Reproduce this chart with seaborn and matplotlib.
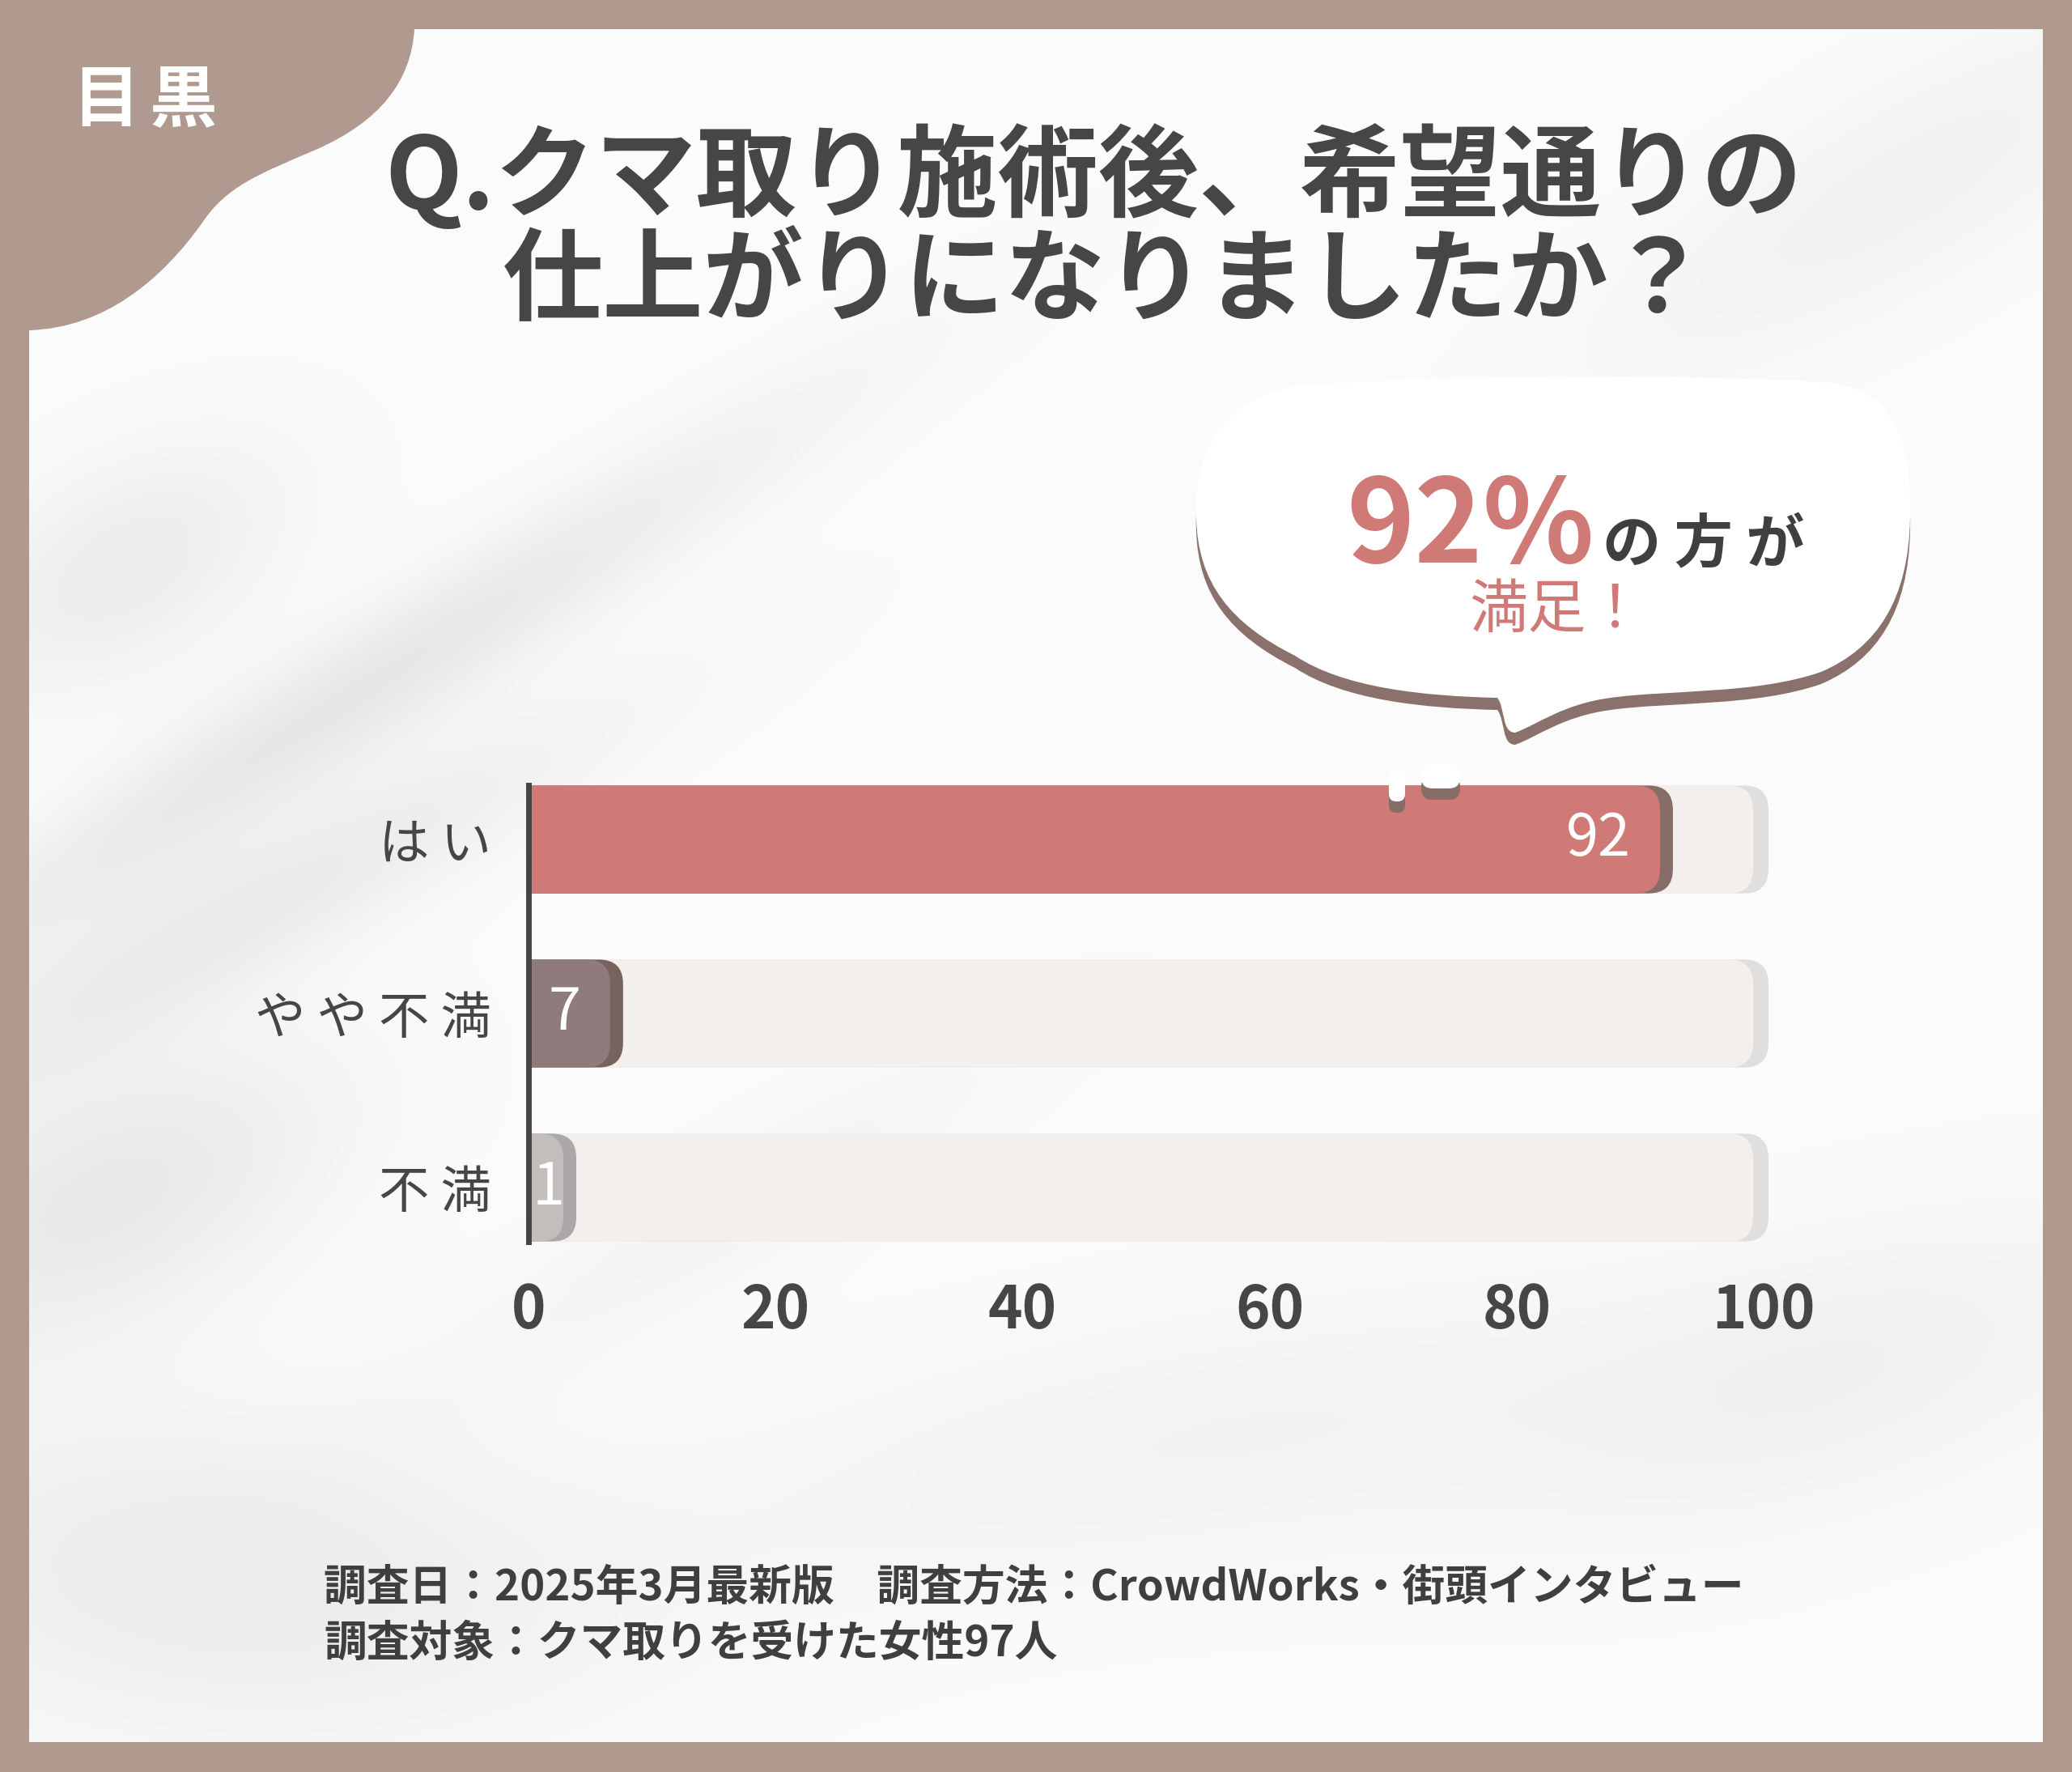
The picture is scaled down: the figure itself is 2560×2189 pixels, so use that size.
import numpy as np
import pandas as pd
import matplotlib
matplotlib.use("Agg")
import matplotlib.pyplot as plt
import matplotlib.transforms as mtransforms
from matplotlib.patches import FancyBboxPatch, PathPatch
from matplotlib.path import Path
import seaborn as sns

# ---------------- data ----------------
categories = ["はい", "やや不満", "不満"]
values = [92, 7, 1]
scale_max = 100
x_ticks = [0, 20, 40, 60, 80, 100]
title_lines = ["Q.クマ取り施術後、希望通りの", "仕上がりになりましたか？"]
area_label = ["目", "黒"]
callout_tail = "の 方 が"
callout_line2 = "満足！"
footer_lines = ["調査日：2025年3月最新版　調査方法：CrowdWorks・街頭インタビュー",
                "調査対象：クマ取りを受けた女性97人"]

# ---------------- style ----------------
bar_colors = ["#cf7a76", "#8f7b7b", "#c3bdbb"]
shadow_colors = ["#876d68", "#77625e", "#aaa8a8"]
track_color = "#f3efec"
track_shadow = "#e1dfde"
frame_color = "#b09a8f"
text_dark = "#464646"
accent = "#cf7a76"

sns.set_theme(style="white")
plt.rcParams["font.family"] = ["Noto Sans CJK JP", "DejaVu Sans"]

W, H = 2560, 2189
DPI = 100
fig = plt.figure(figsize=(W / DPI, H / DPI), dpi=DPI)
fig.patch.set_facecolor(frame_color)

# ---------------- background layer (pixel coords) ----------------
bg = fig.add_axes([0, 0, 1, 1], zorder=0)
bg.set_axis_off()
px0, py0, px1, py1 = 36, 36, 2524, 2152
gx, gy = np.meshgrid(np.linspace(px0, px1, 320), np.linspace(py0, py1, 280))
field = np.full(gx.shape, 0.984)
blobs = [(430, 860, 480, 55, -32, 0.08), (300, 1130, 380, 60, -28, 0.065),
         (130, 1480, 220, 110, -25, 0.075), (260, 1950, 330, 150, 5, 0.06),
         (2350, 230, 320, 90, -30, 0.04), (1500, 1780, 500, 120, -10, 0.035),
         (2300, 1700, 300, 120, -20, 0.035), (900, 1500, 300, 60, -30, 0.03),
         (150, 700, 160, 90, -30, 0.06)]
for cx, cy, sx, sy, ang, amp in blobs:
    t = np.deg2rad(ang)
    dx, dy = gx - cx, gy - cy
    u = dx * np.cos(t) + dy * np.sin(t)
    v = -dx * np.sin(t) + dy * np.cos(t)
    field -= amp * np.exp(-0.5 * (u / sx) ** 2 - 0.5 * (v / sy) ** 2)
bg.imshow(field, cmap="gray", vmin=0, vmax=1, extent=(px0, px1, py1, py0),
          interpolation="bilinear", aspect="auto")
bg.set_xlim(0, W)
bg.set_ylim(H, 0)

# corner blob
verts = [(0, 0), (512, 0), (512, 36),
         (508, 100), (470, 150), (390, 185),
         (320, 215), (280, 230), (250, 275),
         (200, 345), (130, 405), (36, 408),
         (0, 410), (0, 0)]
codes = [Path.MOVETO, Path.LINETO, Path.LINETO,
         Path.CURVE4, Path.CURVE4, Path.CURVE4,
         Path.CURVE4, Path.CURVE4, Path.CURVE4,
         Path.CURVE4, Path.CURVE4, Path.CURVE4,
         Path.LINETO, Path.CLOSEPOLY]
bg.add_patch(PathPatch(Path(verts, codes), fc=frame_color, ec="none", zorder=3))
for ch, xc in zip(area_label, [131, 226]):
    bg.text(xc, 125, ch, color="white", fontsize=60, fontweight="bold",
            ha="center", va="center", zorder=4)

# ---------------- chart axes ----------------
px_per_unit = 15.26
row_px = 215
ax_left, ax_top = 653, 929.5
ax_w = (scale_max + 2) * px_per_unit
ax_h = len(categories) * row_px
ax = fig.add_axes([ax_left / W, (H - ax_top - ax_h) / H, ax_w / W, ax_h / H], zorder=2)
ax.patch.set_alpha(0)

bar_width = 0.62
df = pd.DataFrame({"category": categories, "value": values,
                   "track": [scale_max] * len(categories)})

sns.barplot(data=df, x="track", y="category", orient="h", color=track_color,
            width=bar_width, ax=ax, saturation=1)
track_rects = list(ax.patches)
sns.barplot(data=df, x="value", y="category", hue="category", orient="h",
            palette=bar_colors, width=bar_width, ax=ax, legend=False, saturation=1)
value_rects = [p for p in ax.patches if p not in track_rects]

ax.set_xlim(0, scale_max + 2)
ax.set_ylim(len(categories) - 0.5, -0.5)

p0 = ax.transData.transform((0, 0))
p1 = ax.transData.transform((1, 1))
ux, uy = abs(p1[0] - p0[0]), abs(p1[1] - p0[1])
radius = 30 / ux
aspect = ux / uy
ext = 2.5 * radius
min_bar_px = 49


def rounded(rects, fcs, scs, main_shift_px, shadow_px, z):
    main_tr = ax.transData + mtransforms.ScaledTranslation(main_shift_px / DPI, 0,
                                                           fig.dpi_scale_trans)
    shad_tr = ax.transData + mtransforms.ScaledTranslation((main_shift_px + shadow_px) / DPI, 0,
                                                           fig.dpi_scale_trans)
    rects = sorted(rects, key=lambda r: r.get_y())
    ends = []
    for rect, fc, sc in zip(rects, fcs, scs):
        x, y, w, h = rect.get_x(), rect.get_y(), rect.get_width(), rect.get_height()
        w = max(w, min_bar_px / ux)
        rect.set_visible(False)
        for color, tr, zz in ((sc, shad_tr, z), (fc, main_tr, z + 0.1)):
            p = FancyBboxPatch((x - ext, y), w + ext, h,
                               boxstyle=f"round,pad=0,rounding_size={radius}",
                               mutation_aspect=aspect, fc=color, ec="none",
                               transform=tr, zorder=zz)
            ax.add_patch(p)
            p.set_clip_path(ax.patch)
        ends.append(w)
    return ends


n = len(categories)
rounded(track_rects, [track_color] * n, [track_shadow] * n, -13, 19, 1.0)
bar_ends = rounded(value_rects, bar_colors, shadow_colors, -6, 16, 1.5)
ax.set_xlim(0, scale_max + 2)
ax.set_ylim(len(categories) - 0.5, -0.5)

for i, (v, wend) in enumerate(zip(values, bar_ends)):
    if v * ux > 80:
        ax.annotate(str(v), xy=(wend, i), xytext=(-42, 0), textcoords="offset pixels",
                    ha="right", va="center", color="white", fontsize=52, zorder=5)
    else:
        ax.annotate(str(v), xy=(wend / 2, i), xytext=(0, 0), textcoords="offset pixels",
                    ha="center", va="center", color="white", fontsize=52, zorder=5)

ax.set_xticks(x_ticks)
ax.set_xticklabels([str(t) for t in x_ticks])
ax.set_yticks(range(n))
ax.set_yticklabels([" ".join(c) for c in categories])
ax.set_xlabel("")
ax.set_ylabel("")
for s in ["top", "right", "bottom"]:
    ax.spines[s].set_visible(False)
ax.spines["left"].set_visible(True)
ax.spines["left"].set_color("#454545")
ax.spines["left"].set_linewidth(5)
ax.spines["left"].set_bounds(-bar_width / 2, n - 1 + bar_width / 2)
ax.spines["left"].set_zorder(4)
ax.tick_params(axis="x", length=0, pad=6, labelsize=52, labelcolor=text_dark)
ax.tick_params(axis="y", length=0, pad=33, labelsize=45, labelcolor=text_dark)
for lab in ax.get_xticklabels():
    lab.set_fontweight("bold")
ax.grid(False)

# ---------------- overlay: title, bubble, footer ----------------
ov = fig.add_axes([0, 0, 1, 1], zorder=3)
ov.set_axis_off()
ov.patch.set_alpha(0)
ov.set_xlim(0, W)
ov.set_ylim(H, 0)

ov.text(1351, 220, title_lines[0], ha="center", va="center", fontsize=89.5,
        fontweight="bold", color=text_dark)
ov.text(1366, 350, title_lines[1], ha="center", va="center", fontsize=89.5,
        fontweight="bold", color=text_dark)

bverts = [(1478, 640),
          (1473, 540), (1530, 480), (1620, 475),
          (1850, 462), (2050, 462), (2250, 472),
          (2340, 478), (2362, 540), (2360, 640),
          (2358, 740), (2320, 800), (2250, 830),
          (2170, 858), (2060, 852), (1990, 862),
          (1930, 870), (1900, 895), (1872, 905),
          (1855, 905), (1860, 875), (1850, 862),
          (1760, 860), (1660, 850), (1600, 810),
          (1520, 770), (1480, 720), (1478, 640),
          (1478, 640)]
bcodes = [Path.MOVETO] + [Path.CURVE4] * 27 + [Path.CLOSEPOLY]
bpath = Path(bverts, bcodes)
shadow_tr = mtransforms.Affine2D().translate(0, 15) + ov.transData
ov.add_patch(PathPatch(bpath, fc="#8a716c", ec="none", transform=shadow_tr, zorder=1))
ov.add_patch(PathPatch(bpath, fc="white", ec="none", zorder=2))

# drips
for (x, y, w, h, rs) in [(1716, 952, 20, 38, 9), (1756, 944, 48, 30, 14)]:
    ov.add_patch(FancyBboxPatch((x, y + 14), w, h, boxstyle=f"round,pad=0,rounding_size={rs}",
                                fc="#876d68", ec="none", zorder=1))
    ov.add_patch(FancyBboxPatch((x, y), w, h, boxstyle=f"round,pad=0,rounding_size={rs}",
                                fc="white", ec="none", zorder=2))

ov.text(1663, 695, f"{values[0]}%", ha="left", va="baseline", fontsize=103,
        fontweight="bold", color=accent, zorder=3)
ov.text(1980, 695, callout_tail, ha="left", va="baseline", fontsize=52,
        fontweight="bold", color="#3f3f3f", zorder=3)
ov.text(1815, 775, callout_line2, ha="left", va="baseline", fontsize=52,
        color=accent, zorder=3)

ov.text(400, 1961, footer_lines[0], ha="left", va="center", fontsize=38,
        fontweight="bold", color="#3f3f3f")
ov.text(400, 2030, footer_lines[1], ha="left", va="center", fontsize=38,
        fontweight="bold", color="#3f3f3f")

fig.savefig("out.png", dpi=DPI, facecolor=fig.get_facecolor())
